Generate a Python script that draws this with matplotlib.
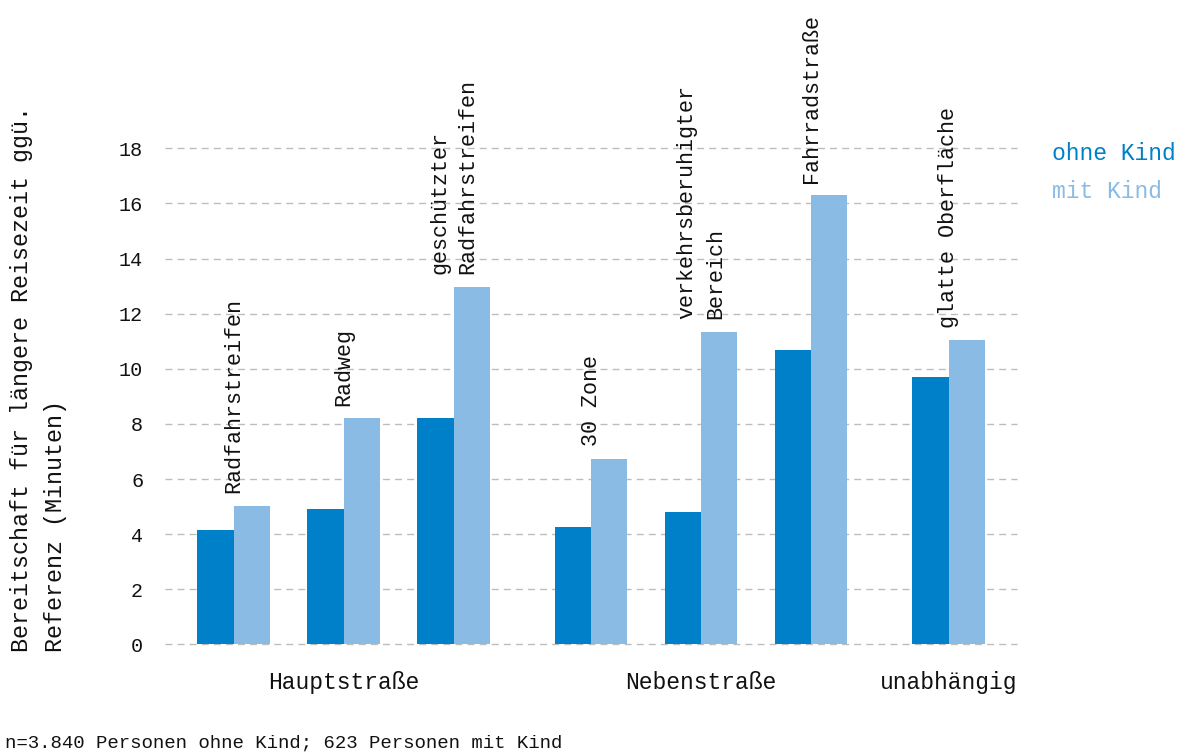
import matplotlib
matplotlib.use("Agg")
import matplotlib.pyplot as plt
import numpy as np

plt.rcParams["font.family"] = ["Liberation Mono", "DejaVu Sans Mono"]

# Data
categories = ["Radfahrstreifen", "Radweg", "geschützter\nRadfahrstreifen",
              "30 Zone", "verkehrsberuhigter\nBereich", "Fahrradstraße",
              "glatte Oberfläche"]
group_of = [0, 0, 0, 1, 1, 1, 2]
groups = ["Hauptstraße", "Nebenstraße", "unabhängig"]
ohne_kind = [4.16, 4.93, 8.21, 4.25, 4.80, 10.68, 9.72]
mit_kind = [5.04, 8.21, 12.98, 6.74, 11.34, 16.30, 11.03]
y_ticks = [0, 2, 4, 6, 8, 10, 12, 14, 16, 18]

C_OHNE = "#0080c8"
C_MIT = "#8abbe5"
C_GRID = "#bdbdbd"
C_TEXT = "#111111"

fig = plt.figure(figsize=(11.92, 7.53), dpi=100)
ax = fig.add_axes([165.4 / 1192, 0.1441, 851.6 / 1192, 0.670])

pos = np.arange(len(categories)) + 0.25 * np.array(group_of)
w = 0.33
ax.bar(pos - w / 2, ohne_kind, width=w, color=C_OHNE, zorder=2)
ax.bar(pos + w / 2, mit_kind, width=w, color=C_MIT, zorder=2)

# category labels above bars
for x, label, a, b in zip(pos, categories, ohne_kind, mit_kind):
    ax.text(x, max(a, b) + 0.45, label, rotation=90, ha="center", va="bottom",
            multialignment="left", fontsize=15.7, color=C_TEXT,
            linespacing=1.45, clip_on=False)

# group labels below
for g, name in enumerate(groups):
    gx = np.mean([p for p, gi in zip(pos, group_of) if gi == g])
    ax.text(gx, -0.0763, name, transform=ax.get_xaxis_transform(),
            ha="center", va="center", fontsize=16.6, color=C_TEXT)

ax.set_xlim(-0.621, 7.121)
ax.set_ylim(0, 18.3)
ax.set_yticks(y_ticks)
ax.set_xticks([])
ax.tick_params(axis="y", length=0, pad=16, labelsize=14.5, labelcolor=C_TEXT)
for s in ax.spines.values():
    s.set_visible(False)
ax.set_axisbelow(True)
ax.grid(True, axis="y", color=C_GRID, linewidth=1.0, linestyle=(0, (5, 3.7)))
for gl in ax.get_ygridlines():
    gl.set_clip_on(False)

# y label
fig.text(38.5 / 1192, 1 - 652 / 753,
         "Bereitschaft für längere Reisezeit ggü.\nReferenz (Minuten)",
         rotation=90, ha="center", va="bottom", multialignment="left",
         fontsize=16.8, color=C_TEXT, linespacing=1.65)

# legend as coloured text
fig.text(1052 / 1192, 1 - 153 / 753, "ohne Kind", color=C_OHNE,
         ha="left", va="center", fontsize=16.6)
fig.text(1052 / 1192, 1 - 192 / 753, "mit Kind", color=C_MIT,
         ha="left", va="center", fontsize=16.6)

# footnote
fig.text(5 / 1192, 1 - 743 / 753,
         "n=3.840 Personen ohne Kind; 623 Personen mit Kind",
         ha="left", va="center", fontsize=13.7, color=C_TEXT)

fig.savefig("out.png", dpi=100, facecolor="white")
